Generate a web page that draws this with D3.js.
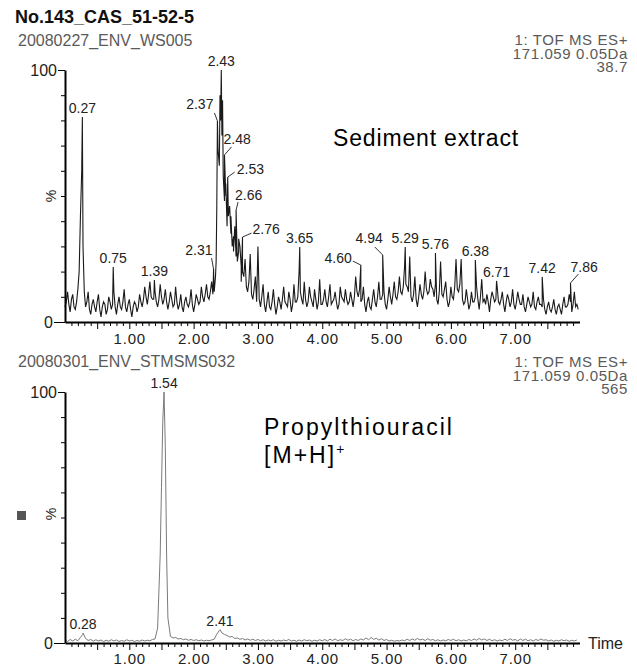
<!DOCTYPE html>
<html>
<head>
<meta charset="utf-8">
<script src="https://cdn.jsdelivr.net/npm/d3@7"></script>
<style>
  body { margin: 0; background: #fff; }
  svg { display: block; }
  text { font-family: "Liberation Sans", Arial, sans-serif; }
</style>
</head>
<body>
<script>
// ---- data (intensity in %, time in min) ----
const tStep = 0.04; // grid spacing of the traces below, starting at 0.00

const sedimentTrace = [
  6, 12, 4, 11, 5, 13, 42, 30, 6, 12,
  3, 9, 4, 11, 2, 8, 3, 10, 5, 12,
  3, 10, 5, 13, 4, 9, 2, 8, 4, 11,
  6, 14, 7, 16, 9, 12, 6, 15, 7, 13,
  5, 12, 6, 14, 5, 11, 4, 10, 6, 13,
  4, 11, 7, 14, 8, 15, 9, 16, 12, 45,
  62, 74, 48, 38, 46, 30, 38, 24, 30, 20,
  25, 12, 27, 9, 18, 30, 6, 15, 4, 12,
  5, 13, 3, 10, 5, 14, 7, 12, 4, 15,
  8, 20, 9, 16, 6, 14, 8, 13, 5, 17,
  7, 13, 6, 15, 8, 12, 5, 14, 9, 13,
  7, 12, 6, 18, 10, 8, 14, 4, 10, 5,
  13, 6, 16, 9, 12, 5, 14, 7, 16, 9,
  18, 11, 22, 14, 26, 8, 18, 6, 15, 9,
  20, 11, 17, 13, 15, 7, 24, 10, 16, 6,
  14, 9, 25, 12, 25, 7, 13, 5, 12, 8,
  14, 5, 17, 9, 11, 4, 12, 8, 14, 7,
  12, 4, 11, 6, 13, 5, 12, 7, 11, 4,
  10, 6, 12, 5, 10, 7, 9, 3, 8, 4,
  9, 3, 7, 3, 10, 6, 11, 4, 12, 7
];
// in-between scans of the same trace (t = 0.02, 0.06, ...)
const sedimentMid = [
  8, 7, 9, 6, 8, 20, 60, 12, 8, 5,
  7, 6, 8, 5, 6, 7, 5, 8, 7, 6,
  7, 6, 8, 6, 7, 5, 6, 7, 6, 8,
  9, 10, 11, 10, 9, 8, 9, 10, 9, 8,
  8, 9, 7, 8, 7, 6, 8, 7, 8, 7,
  7, 9, 8, 10, 11, 10, 12, 11, 18, 68,
  80, 58, 50, 42, 35, 34, 26, 28, 22, 18,
  14, 16, 11, 13, 8, 9, 10, 7, 8, 6,
  8, 7, 6, 8, 9, 8, 6, 9, 7, 8,
  10, 12, 7, 9, 8, 10, 6, 9, 8, 7,
  9, 8, 10, 7, 9, 8, 7, 10, 8, 9,
  8, 9, 10, 12, 13, 9, 7, 8, 6, 9,
  8, 10, 9, 11, 7, 9, 10, 11, 10, 12,
  12, 14, 15, 12, 10, 11, 9, 10, 11, 12,
  13, 12, 14, 10, 9, 12, 11, 13, 9, 8,
  10, 14, 13, 15, 9, 8, 9, 7, 8, 10,
  9, 10, 8, 7, 8, 9, 10, 9, 8, 9,
  7, 8, 9, 8, 7, 8, 9, 7, 6, 7,
  8, 7, 6, 8, 7, 6, 5, 6, 5, 6,
  5, 6, 5, 7, 6, 7, 8, 7, 6, 5
];
// extra unlabelled points inside the main cluster
const sedimentExtra = [[2.35, 24], [2.41, 90], [2.45, 88], [2.50, 55], [2.58, 42], [2.62, 28], [2.70, 33], [2.74, 16]];
const sedimentPeaks = [
  { rt: 0.27, pct: 81.3 }, { rt: 0.75, pct: 21.8 }, { rt: 1.39, pct: 16.7 },
  { rt: 2.31, pct: 21.0 }, { rt: 2.37, pct: 79.8 }, { rt: 2.43, pct: 100 },
  { rt: 2.48, pct: 66.3 }, { rt: 2.53, pct: 57.5 }, { rt: 2.66, pct: 44.4 },
  { rt: 2.76, pct: 33.7 }, { rt: 3.65, pct: 29.8 }, { rt: 4.60, pct: 22.6 },
  { rt: 4.94, pct: 26.6 }, { rt: 5.29, pct: 29.8 }, { rt: 5.76, pct: 27.4 },
  { rt: 6.38, pct: 24.6 }, { rt: 6.71, pct: 16.3 }, { rt: 7.42, pct: 17.9 },
  { rt: 7.86, pct: 15.5 }
];

const ptuTrace = [
  1.2, 0.6, 1.4, 0.8, 1.5, 0.9, 2.2, 3.5, 1.8, 1.0,
  1.4, 0.7, 1.3, 0.8, 1.2, 0.6, 1.1, 0.7, 1.3, 0.8,
  1.2, 0.6, 1.0, 0.7, 1.3, 0.8, 1.1, 0.6, 1.0, 0.7,
  1.2, 0.8, 1.1, 0.9, 1.4, 1.6, 6, 35, 88, 78,
  10, 2.6, 2.0, 2.2, 1.6, 1.8, 1.3, 1.6, 1.1, 1.4,
  1.0, 1.3, 0.9, 1.2, 0.8, 1.1, 0.9, 1.2, 1.5, 3.5,
  5.0, 4.0, 3.4, 3.0, 2.4, 2.6, 1.8, 2.0, 1.5, 1.8,
  1.2, 1.6, 1.1, 1.5, 1.0, 1.4, 0.9, 1.3, 0.8, 1.2,
  0.9, 1.3, 0.7, 1.1, 0.8, 1.2, 0.9, 1.4, 0.8, 1.1,
  0.7, 1.2, 0.8, 1.3, 0.9, 1.2, 0.7, 1.1, 0.8, 1.3,
  0.9, 1.4, 0.8, 1.5, 1.0, 1.6, 0.9, 1.3, 1.0, 1.7,
  1.1, 1.5, 0.9, 1.4, 1.0, 1.6, 1.2, 2.0, 1.3, 2.2,
  1.4, 1.9, 1.2, 1.7, 1.0, 1.4, 0.8, 1.1, 0.7, 1.0,
  0.8, 1.2, 0.9, 1.5, 1.0, 1.6, 1.1, 1.8, 1.2, 1.5,
  1.0, 1.7, 1.1, 1.4, 0.9, 1.3, 0.8, 1.2, 0.9, 1.4,
  1.0, 1.5, 0.9, 1.3, 0.8, 1.2, 0.9, 1.4, 1.0, 1.6,
  1.1, 1.8, 1.2, 1.6, 1.0, 1.5, 0.9, 1.3, 0.8, 1.2,
  0.9, 1.5, 1.0, 1.7, 1.1, 1.4, 0.8, 1.6, 1.0, 1.5,
  0.9, 1.3, 0.8, 1.4, 1.0, 1.6, 1.1, 1.3, 0.8, 1.2,
  0.7, 1.1, 0.8, 1.3, 0.9, 1.2, 0.7, 1.1, 0.8, 1.2
];
const ptuMid = [];
const ptuExtra = [[1.50, 62], [1.58, 35]];
const ptuPeaks = [{ rt: 0.28, pct: 4.0 }, { rt: 1.54, pct: 100 }, { rt: 2.41, pct: 5.3 }];

const timeLabels = [1, 2, 3, 4, 5, 6, 7];
const pctLabels = [0, 100];

const title = 'No.143_CAS_51-52-5';
const sedimentFile = '20080227_ENV_WS005';
const sedimentInfo = ['1: TOF MS ES+', '171.059 0.05Da', '38.7'];
const ptuFile = '20080301_ENV_STMSMS032';
const ptuInfo = ['1: TOF MS ES+', '171.059 0.05Da', '565'];

// ---- layout ----
const W = 637, H = 666;
const svg = d3.select('body').append('svg').attr('width', W).attr('height', H);
svg.append('rect').attr('width', W).attr('height', H).attr('fill', '#fff');

const x = d3.scaleLinear().domain([0, 8]).range([65, 579.5]);

// labels that sit beside their peak with a small leader line
const labelNudge = {
  '2.31': { dx: -1, dy: -14, anchor: 'end', lead: [-2, -11] },
  '2.37': { dx: -4, dy: -12, anchor: 'end', lead: [-3, -8] },
  '2.48': { dx: -1, dy: -11, anchor: 'start', lead: [7, -8] },
  '2.53': { dx: 9, dy: -3, anchor: 'start', lead: [7, -5] },
  '2.66': { dx: -1, dy: -10, anchor: 'start', lead: [2, -8] },
  '2.76': { dx: 10, dy: -3, anchor: 'start', lead: [9, -4] },
  '4.60': { dx: -9, dy: -2, anchor: 'end', lead: [-8, -4] },
  '4.94': { dx: 0, dy: -12, anchor: 'end', lead: [-8, -8] },
  '7.86': { dx: 0, dy: -11, anchor: 'start', lead: [8, -9] }
};

const panels = [
  { trace: sedimentTrace, mid: sedimentMid, extra: sedimentExtra, peaks: sedimentPeaks, top: 70, base: 322, tickY: 344,
    file: sedimentFile, fileY: 46, info: sedimentInfo, infoY: 45, stroke: '#1a1a1a', width: 1.1, pctY: 196, time: false },
  { trace: ptuTrace, mid: ptuMid, extra: ptuExtra, peaks: ptuPeaks, top: 392, base: 643, tickY: 664,
    file: ptuFile, fileY: 367, info: ptuInfo, infoY: 367, stroke: '#7a7a7a', width: 1, pctY: 514, time: true }
];

function buildSeries(grid, mid, extra, peaks) {
  const pts = grid.map((v, i) => [i * tStep, v]);
  mid.forEach((v, i) => pts.push([i * tStep + tStep / 2, v]));
  extra.forEach(p => pts.push(p));
  peaks.forEach(p => pts.push([p.rt, p.pct]));
  return pts.sort((a, b) => a[0] - b[0]);
}

svg.append('text')
  .attr('x', 15).attr('y', 23)
  .attr('font-size', 18).attr('font-weight', 'bold').attr('fill', '#111')
  .text(title);

panels.forEach(p => {
  const y = d3.scaleLinear().domain([0, 100]).range([p.base, p.top]);
  const g = svg.append('g');

  // file name and trace info
  g.append('text')
    .attr('x', 18).attr('y', p.fileY)
    .attr('font-size', 16).attr('fill', '#5a5a5a')
    .text(p.file);

  g.selectAll('.info')
    .data(p.info)
    .enter()
    .append('text')
    .attr('class', 'info')
    .attr('x', 628)
    .attr('y', (d, i) => p.infoY + i * 13.5)
    .attr('text-anchor', 'end')
    .attr('font-size', 15).attr('letter-spacing', 0.6).attr('fill', '#5a5a5a')
    .text(d => d);

  // trace
  const series = buildSeries(p.trace, p.mid, p.extra, p.peaks);
  g.append('path')
    .datum(series)
    .attr('fill', 'none')
    .attr('stroke', p.stroke)
    .attr('stroke-width', p.width)
    .attr('d', d3.line().x(d => x(d[0])).y(d => y(d[1])));

  // x axis: minor ticks every 0.1, longer every 0.5, labels on whole minutes
  const minor = d3.range(1, 80).map(i => i / 10);
  const xAxis = g.append('g')
    .attr('transform', `translate(0,${p.base})`)
    .call(d3.axisBottom(x)
      .tickValues(minor)
      .tickSize(4)
      .tickSizeOuter(0)
      .tickFormat(d => timeLabels.includes(Math.round(d * 10) / 10) ? d.toFixed(2) : ''));
  xAxis.selectAll('.tick line')
    .attr('stroke', '#000')
    .attr('y2', d => Math.round(d * 10) % 5 === 0 ? 7 : 4);
  xAxis.select('.domain').attr('stroke', '#000').attr('stroke-width', 2);
  xAxis.selectAll('.tick text')
    .attr('y', p.tickY - p.base)
    .attr('dy', null)
    .attr('font-size', 15).attr('letter-spacing', 0.8).attr('fill', '#222')
    .attr('font-family', '"Liberation Sans", Arial, sans-serif');

  // y axis
  const yAxis = g.append('g')
    .attr('transform', 'translate(65,0)')
    .call(d3.axisLeft(y)
      .tickValues(d3.range(0, 101, 10))
      .tickSize(4)
      .tickSizeOuter(0)
      .tickPadding(1)
      .tickFormat(d => pctLabels.includes(d) ? d : ''));
  yAxis.selectAll('.tick line')
    .attr('stroke', '#000')
    .attr('x2', d => d === 100 ? -7 : d === 0 ? -11 : -4);
  yAxis.selectAll('.tick text')
    .attr('x', d => d === 100 ? -8 : d === 0 ? -12 : -5)
    .attr('font-size', 16).attr('fill', '#222')
    .attr('font-family', '"Liberation Sans", Arial, sans-serif');
  yAxis.select('.domain').attr('stroke', '#000').attr('stroke-width', 2);

  g.append('text')
    .attr('transform', `translate(56,${p.pctY}) rotate(-90)`)
    .attr('text-anchor', 'middle')
    .attr('font-size', 14).attr('fill', '#222')
    .text('%');

  // peak labels
  const lab = g.selectAll('.peak')
    .data(p.peaks)
    .enter()
    .append('g')
    .attr('class', 'peak')
    .attr('transform', d => `translate(${x(d.rt)},${y(d.pct)})`);

  lab.filter(d => labelNudge[d.rt.toFixed(2)])
    .append('line')
    .attr('x1', 0).attr('y1', 0)
    .attr('x2', d => labelNudge[d.rt.toFixed(2)].lead[0])
    .attr('y2', d => labelNudge[d.rt.toFixed(2)].lead[1])
    .attr('stroke', '#333').attr('stroke-width', 1);

  lab.append('text')
    .attr('x', d => (labelNudge[d.rt.toFixed(2)] || { dx: 0 }).dx)
    .attr('y', d => (labelNudge[d.rt.toFixed(2)] || { dy: -4 }).dy)
    .attr('text-anchor', d => (labelNudge[d.rt.toFixed(2)] || { anchor: 'middle' }).anchor)
    .attr('font-size', 14).attr('fill', '#222')
    .text(d => d.rt.toFixed(2));

  if (p.time) {
    g.append('text')
      .attr('x', 588).attr('y', p.base + 6)
      .attr('font-size', 16).attr('fill', '#222')
      .text('Time');
  }
});

// small marker left of the lower panel
svg.append('rect')
  .attr('x', 17).attr('y', 511).attr('width', 9).attr('height', 9)
  .attr('fill', '#555');

// annotations in a Calibri-like face: fixed size, spacing opened up to the original widths
function fitText(sel, size, target) {
  sel.attr('font-size', size).attr('letter-spacing', 0);
  const len = sel.node().getComputedTextLength();
  const n = sel.text().length;
  sel.attr('letter-spacing', Math.max(0, (target - len) / n));
}

const annoFont = 'Lato, "Open Sans", sans-serif';
const annoSize = 23;
const sed = svg.append('text')
  .attr('x', 333).attr('y', 146)
  .attr('font-family', annoFont).attr('fill', '#000')
  .text('Sediment extract');
fitText(sed, annoSize, 186);

const ptu = svg.append('text')
  .attr('x', 264).attr('y', 435)
  .attr('font-family', annoFont).attr('fill', '#000')
  .text('Propylthiouracil');
fitText(ptu, annoSize, 190);

const ion = svg.append('text')
  .attr('x', 264).attr('y', 463)
  .attr('font-family', annoFont).attr('fill', '#000')
  .attr('font-size', annoSize)
  .attr('letter-spacing', ptu.attr('letter-spacing'));
ion.append('tspan').text('[M+H]');
ion.append('tspan')
  .attr('font-size', annoSize * 0.6)
  .attr('dy', -annoSize * 0.4)
  .text('+');
</script>
</body>
</html>
